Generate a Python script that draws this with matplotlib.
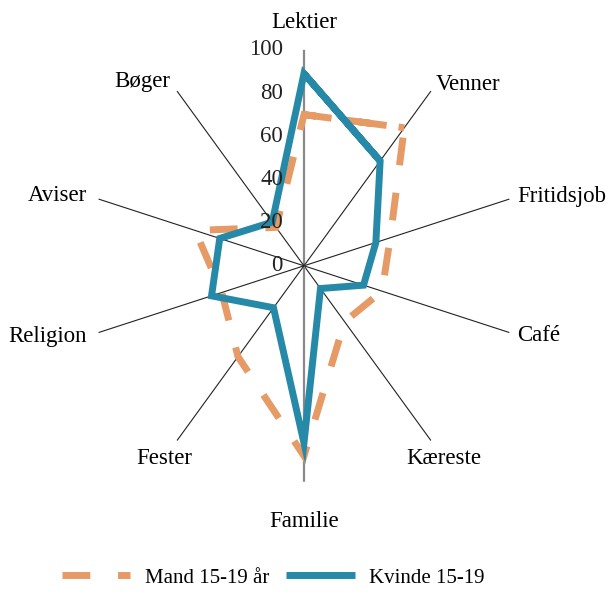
import numpy as np
import matplotlib
matplotlib.use('Agg')
import matplotlib.pyplot as plt
from matplotlib.transforms import offset_copy

kategorier = ['Lektier', 'Venner', 'Fritidsjob', 'Café', 'Kæreste',
              'Familie', 'Fester', 'Religion', 'Aviser', 'Bøger']
mand = [70, 79, 42, 38, 32, 88, 52, 40, 53, 22]
kvinde = [89, 60, 35, 29, 13, 82, 24, 45, 41, 25]
ticks = [0, 20, 40, 60, 80, 100]

plt.rcParams['font.family'] = ['Liberation Serif', 'DejaVu Serif']

fig = plt.figure(figsize=(6.11, 5.92), dpi=100)
ax = fig.add_axes([0.144, 0.186, 0.707, 0.730], projection='polar')
ax.set_theta_offset(np.pi / 2)
ax.set_theta_direction(-1)
ax.set_ylim(0, 100)
ax.grid(False)
ax.spines['polar'].set_visible(False)
ax.set_xticks([])
ax.set_yticks([])

vinkler = np.linspace(0, 2 * np.pi, len(kategorier), endpoint=False)

# eger
for i, v in enumerate(vinkler):
    if i in (0, 5):
        ax.plot([v, v], [0, 100], color='#8a8a8a', lw=1.6, zorder=1)
    else:
        ax.plot([v, v], [0, 100], color='#222222', lw=0.8, zorder=1)

# en ekstra kant, saa hjoernet ved Lektier bliver et rigtigt hjoerne
lukket = np.append(vinkler, vinkler[:2])
ax.plot(lukket, mand + mand[:2], color='#E69A66', lw=5, linestyle=(0, (4, 4)),
        dash_capstyle='butt', dash_joinstyle='miter', zorder=2, label='Mand 15-19 år')
ax.plot(lukket, kvinde + kvinde[:2], color='#2689A8', lw=5,
        solid_joinstyle='miter', solid_capstyle='butt', zorder=3, label='Kvinde 15-19')

# værdiakse
trans = offset_copy(ax.transData, fig=fig, x=-21, y=0, units='dots')
for t in ticks:
    ax.text(0, t, str(t), transform=trans, ha='right', va='center',
            fontsize=16.5, color='#222222', zorder=5)

# kategorinavne
fs = 16.5
for navn, v in zip(kategorier, vinkler):
    x = np.sin(v)
    y = np.cos(v)
    if y > 0.99:
        ax.text(v, 108, navn, ha='center', va='bottom', fontsize=fs)
    elif y < -0.99:
        ax.text(v, 113.5, navn, ha='center', va='top', fontsize=fs)
    elif y < -0.5:
        ax.text(v, 110, navn, ha='center', va='center', fontsize=fs)
    elif x > 0:
        ax.text(v, 104, navn, ha='left', va='center', fontsize=fs)
    else:
        ax.text(v, 105.5, navn, ha='right', va='center', fontsize=fs)

fig.legend(loc='center', bbox_to_anchor=(0.447, 0.024), ncol=2, frameon=False,
           fontsize=15, handlelength=3.3, handletextpad=0.7, columnspacing=0.8)

fig.savefig('out.png', dpi=100)
